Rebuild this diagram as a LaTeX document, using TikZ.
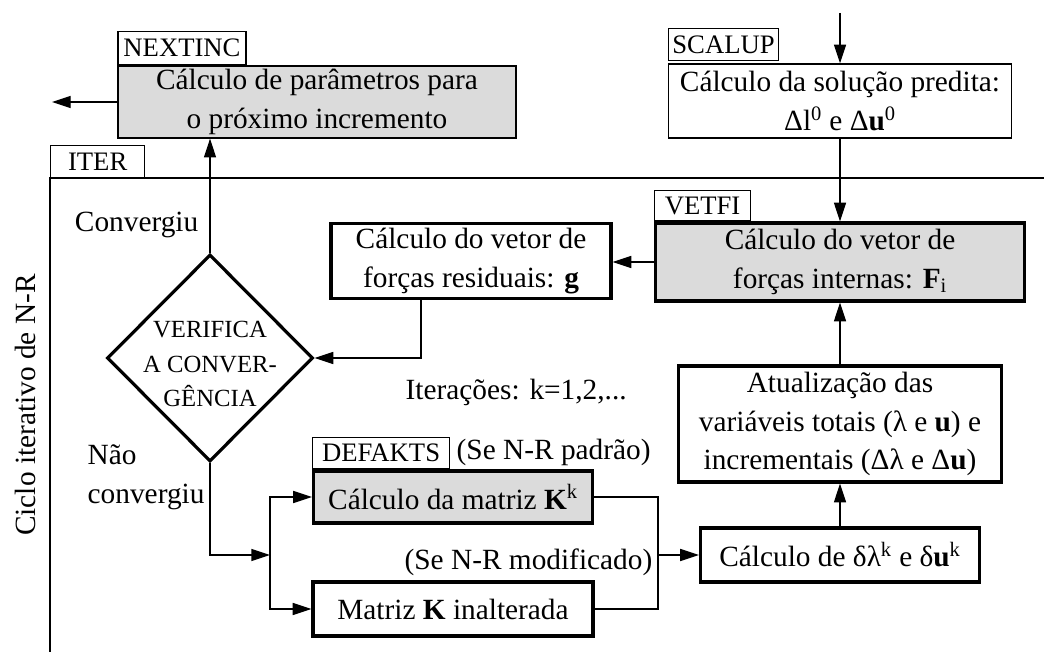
\documentclass[tikz,border=0pt]{standalone}
\usepackage{fontspec}
\setmainfont{Liberation Serif}
\usetikzlibrary{arrows.meta, shapes.geometric, calc}

\begin{document}
\begin{tikzpicture}[x=0.75pt, y=-0.75pt,
		every node/.style={font=\fontsize{22}{29}\selectfont},
		dims/.style 2 args={minimum width=#1*0.75pt, minimum height=#2*0.75pt},
		box/.style={draw, line width=2.4pt, align=center, inner sep=0pt},
		thinbox/.style={draw, line width=1pt, align=center, inner sep=0pt},
		tag/.style={draw, line width=1pt, inner sep=0pt, anchor=south west, font=\fontsize{20}{22}\selectfont},
		sub/.style={fill=black!14},
		arr/.style={-{Triangle[length=14pt,width=9pt]}, line width=1pt},
		link/.style={line width=1pt}]

	\useasboundingbox (0,0) rectangle (1044,652);

	% predictor and next increment
	\node[thinbox, sub, dims={398}{72}] (next) at (317,102) {Cálculo de parâmetros para\\o próximo incremento};
	\node[thinbox, dims={343}{74}] (scalup) at (840,101) {Cálculo da solução predita:\\Δl\textsuperscript{0} e Δ\textbf{u}\textsuperscript{0}};

	% iteration loop
	\node[box, sub, dims={369}{78}] (vetfi) at (840,262) {Cálculo do vetor de\\forças internas: \textbf{F}\textsubscript{i}};
	\node[box, dims={280}{75}] (resid) at (471,261) {Cálculo do vetor de\\forças residuais: \textbf{g}};
	\node[diamond, draw, line width=2.4pt, inner sep=0pt, dims={206}{207}] (verif) at (210,358) {};
	\node[align=center, font=\fontsize{18.5}{26}\selectfont] (veriftext) at (210,364) {VERIFICA\\A CONVER-\\GÊNCIA};
	\node[box, dims={323}{116}] (atual) at (840,424) {Atualização das\\variáveis totais (λ e \textbf{u}) e\\incrementais (Δλ e Δ\textbf{u})};
	\node[box, sub, dims={279}{52}] (kmat) at (453,497) {Cálculo da matriz \textbf{K}\textsuperscript{k}};
	\node[box, dims={280}{54}] (kconst) at (453,609) {Matriz \textbf{K} inalterada};
	\node[box, dims={279}{54}] (delta) at (840,555) {Cálculo de δλ\textsuperscript{k} e δ\textbf{u}\textsuperscript{k}};

	% routine names
	\node[tag, dims={128}{33}] (nextname) at (next.north west) {NEXTINC};
	\node[tag, dims={110}{32}] (scalupname) at ([yshift=1.5pt]scalup.north west) {SCALUP};
	\node[tag, dims={96}{30}] (vetfiname) at (vetfi.north west) {VETFI};
	\node[tag, dims={137}{31}] (kmatname) at (kmat.north west) {DEFAKTS};
	\node[tag, dims={94}{32}] (itername) at (50,178) {ITER};

	\draw[link] (1044,178) -- (50,178) -- (50,652);

	% labels
	\node[anchor=east] (conv) at (203,225) {Convergiu};
	\node[anchor=north west, align=left] (notconv) at (83,440) {Não\\convergiu};
	\node[anchor=west] (iter) at (401,392) {Iterações: k=1,2,...};
	\node[anchor=west] (std) at (452,452) {(Se N-R padrão)};
	\node[anchor=east] (modif) at (657,562) {(Se N-R modificado)};
	\node[rotate=90] (cycle) at (25,405) {Ciclo iterativo de N-R};

	% connectors
	\coordinate (src) at (840,13);
	\coordinate (exit) at (52,102);
	\coordinate (split) at (270,555);
	\coordinate (merge) at (658,555);

	\draw[arr] (src) -- (scalup.north);
	\draw[arr] (next.west) -- (exit);
	\draw[arr] (scalup.south) -- (vetfi.north);
	\draw[arr] (vetfi.west) -- (vetfi.west -| resid.east);
	\draw[arr] ($(resid.south)+(-50,0)$) |- (verif.east);
	\draw[arr] (verif.north) -- (verif.north |- next.south);
	\draw[arr] (atual.north) -- (vetfi.south);
	\draw[arr] (delta.north) -- (atual.south);
	\draw[arr] (verif.south) |- (split);
	\draw[arr] (split) |- (kmat.west);
	\draw[arr] (split) |- (kconst.west);
	\draw[link] (kmat.east) -| (merge);
	\draw[link] (kconst.east) -| (merge);
	\draw[arr] (merge) -- (delta.west);
\end{tikzpicture}
\end{document}
